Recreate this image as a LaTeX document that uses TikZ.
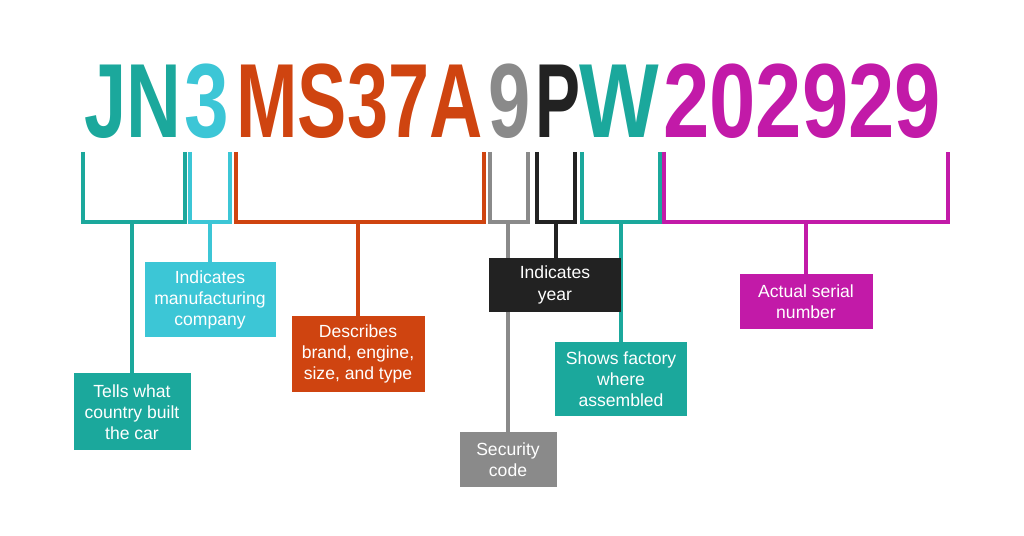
\documentclass[tikz,border=0pt]{standalone}
\usepackage{fontspec}
\setmainfont{Liberation Sans}
\usetikzlibrary{positioning}
\definecolor{vteal}{HTML}{1BA89C}
\definecolor{vcyan}{HTML}{3CC6D6}
\definecolor{vred}{HTML}{CF4410}
\definecolor{vgray}{HTML}{8A8A8A}
\definecolor{vblack}{HTML}{222222}
\definecolor{vmag}{HTML}{C21AA8}
\tikzset{
    vin/.style={anchor=base west, inner sep=0pt, font=\fontsize{60}{60}\selectfont\bfseries}, % big VIN letters
    brk/.style={line width=1.8pt}, % brackets and stems
    info/.style={fill=#1, text=white, align=center, inner sep=0pt, font=\fontsize{10}{12}\selectfont},
    }
\begin{document}
\begin{tikzpicture}[x=0.02cm, y=-0.02cm]
    \useasboundingbox (0,0) rectangle (1024,536);

    \node[vin, text=vteal] at (84,138) (WMI) {\scalebox{0.72}[1]{JN}};
    \node[vin, text=vcyan] at (184,138) (MAKER) {\scalebox{0.76}[1]{3}};
    \node[vin, text=vred] at (236,138) (VDS) {\scalebox{0.70}[1]{MS37A}};
    \node[vin, text=vgray] at (488,138) (CHECK) {\scalebox{0.72}[1]{9}};
    \node[vin, text=vblack] at (535,138) (YEAR) {\scalebox{0.64}[1]{P}};
    \node[vin, text=vteal] at (579,138) (PLANT) {\scalebox{0.80}[1]{W}};
    \node[vin, text=vmag] at (663,138) (SERIAL) {\scalebox{0.79}[1]{202929}};

    % boxes
    \node[info=vcyan, minimum width=131*0.02cm, minimum height=75*0.02cm] at (210,300) (MAKERBOX) {Indicates\\manufacturing\\company};
    \node[info=vred, minimum width=133*0.02cm, minimum height=76*0.02cm] at (358,354) (VDSBOX) {Describes\\brand, engine,\\size, and type};
    \node[info=vteal, minimum width=117*0.02cm, minimum height=77*0.02cm] at (132,412) (WMIBOX) {Tells what\\country built\\the car};
    \node[info=vgray, minimum width=97*0.02cm, minimum height=55*0.02cm] at (508,460) (CHECKBOX) {Security\\code};
    \node[info=vteal, minimum width=132*0.02cm, minimum height=74*0.02cm] at (621,379) (PLANTBOX) {Shows factory\\where\\assembled};
    \node[info=vmag, minimum width=133*0.02cm, minimum height=55*0.02cm] at (806,302) (SERIALBOX) {Actual serial\\number};

    % brackets and stems
    \draw[brk, vteal] (83,152) |- (185,222) -- (185,152);
    \draw[brk, vteal] (WMIBOX.north) -- (WMIBOX.north |- 0,222);
    \draw[brk, vcyan] (190,152) |- (230,222) -- (230,152);
    \draw[brk, vcyan] (MAKERBOX.north) -- (MAKERBOX.north |- 0,222);
    \draw[brk, vred] (236,152) |- (484,222) -- (484,152);
    \draw[brk, vred] (VDSBOX.north) -- (VDSBOX.north |- 0,222);
    \draw[brk, vgray] (490,152) |- (528,222) -- (528,152);
    \draw[brk, vgray] (CHECKBOX.north) -- (CHECKBOX.north |- 0,222);
    \draw[brk, vteal] (582,152) |- (660,222) -- (660,152);
    \draw[brk, vteal] (PLANTBOX.north) -- (PLANTBOX.north |- 0,222);
    \draw[brk, vmag] (664,152) |- (948,222) -- (948,152);
    \draw[brk, vmag] (SERIALBOX.north) -- (SERIALBOX.north |- 0,222);
    \draw[brk, vblack] (537,152) |- (575,222) -- (575,152);
    \draw[brk, vblack] (556,222) -- (556,260);

    \node[info=vblack, minimum width=132*0.02cm, minimum height=54*0.02cm] at (555,285) (YEARBOX) {Indicates\\year};
\end{tikzpicture}
\end{document}
